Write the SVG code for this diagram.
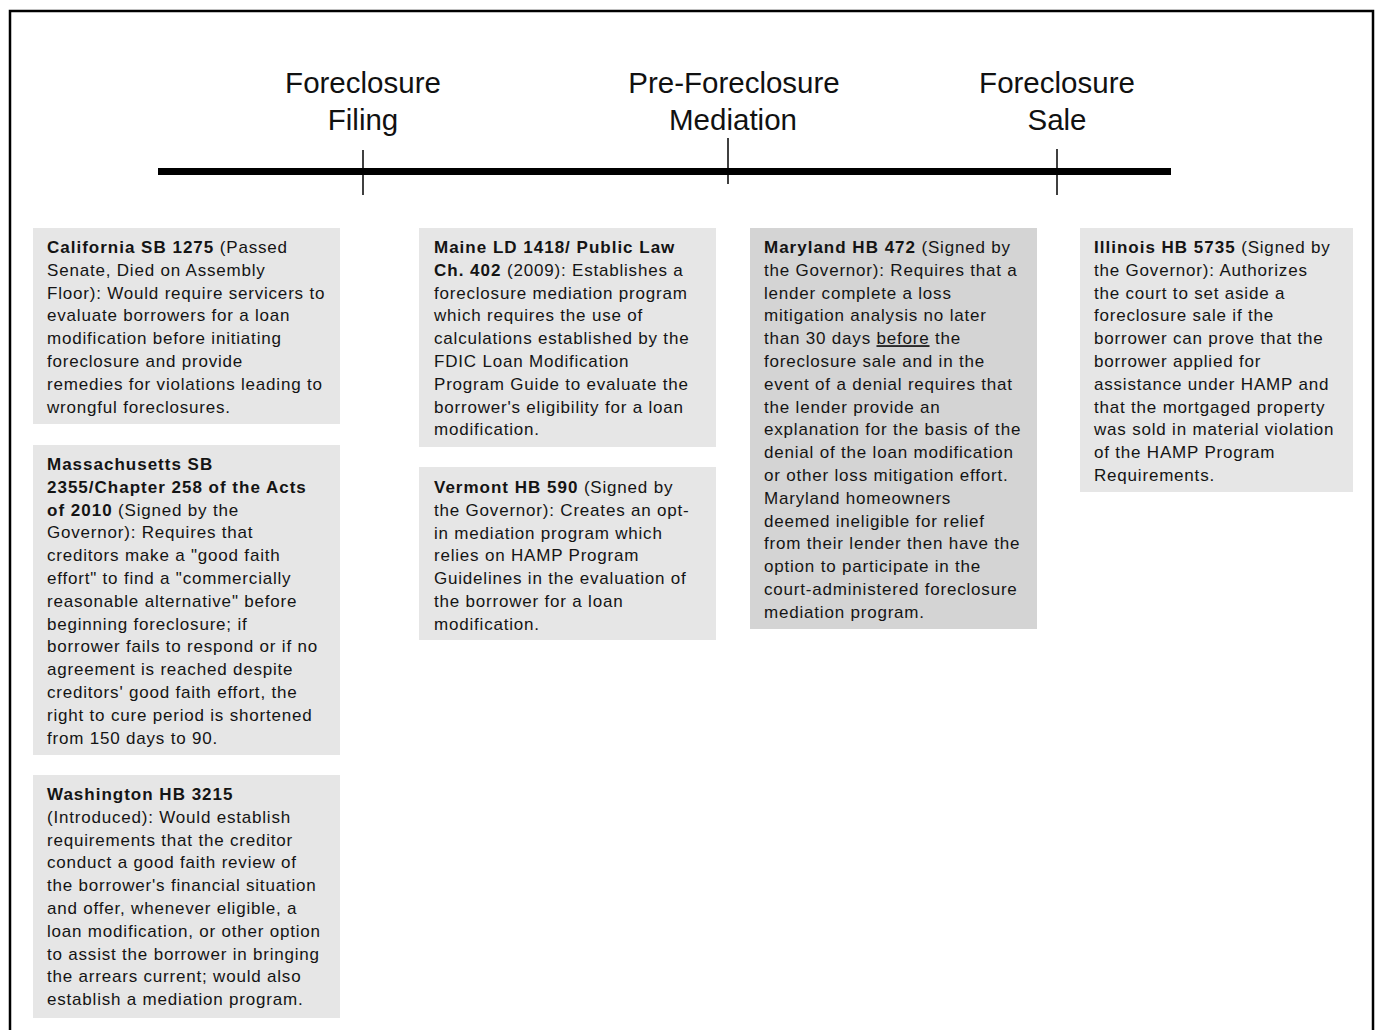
<svg xmlns="http://www.w3.org/2000/svg" width="1382" height="1030" viewBox="0 0 1382 1030">
<style>
.box{fill:#e6e6e6}
.boxd{fill:#d4d4d4}
.t{font-family:"Liberation Sans",Arial,sans-serif;font-size:17px;fill:#141414;letter-spacing:0.8px}
.b{font-weight:bold;letter-spacing:1px}
.h{font-family:"Liberation Sans",Arial,sans-serif;font-size:29.5px;fill:#111;text-anchor:middle}
</style>
<rect x="10" y="11" width="1363" height="1030" fill="#fff" stroke="#000" stroke-width="2.5"/>
<g id="timeline">
<line x1="158" y1="171.5" x2="1171" y2="171.5" stroke="#000" stroke-width="7"/>
</g>
<g id="connectors" stroke="#000" stroke-width="1.5">
<line x1="363" y1="150" x2="363" y2="195"/>
<line x1="728" y1="138" x2="728" y2="184"/>
<line x1="1057" y1="149" x2="1057" y2="195"/>
</g>
<g id="label-filing">
<text class="h" x="363" y="93">Foreclosure</text>
<text class="h" x="363" y="130">Filing</text>
</g>
<g id="label-mediation">
<text class="h" x="734" y="93">Pre-Foreclosure</text>
<text class="h" x="733" y="130">Mediation</text>
</g>
<g id="label-sale">
<text class="h" x="1057" y="93">Foreclosure</text>
<text class="h" x="1057" y="130">Sale</text>
</g>
<g id="california">
<rect class="box" x="33" y="228" width="307" height="196"/>
<text class="t" x="47" y="253"><tspan class="b">California SB 1275</tspan> (Passed</text>
<text class="t" x="47" y="275.8">Senate, Died on Assembly</text>
<text class="t" x="47" y="298.6">Floor): Would require servicers to</text>
<text class="t" x="47" y="321.4">evaluate borrowers for a loan</text>
<text class="t" x="47" y="344.2">modification before initiating</text>
<text class="t" x="47" y="367">foreclosure and provide</text>
<text class="t" x="47" y="389.8">remedies for violations leading to</text>
<text class="t" x="47" y="412.6">wrongful foreclosures.</text>
</g>
<g id="massachusetts">
<rect class="box" x="33" y="445" width="307" height="310"/>
<text class="t" x="47" y="470"><tspan class="b">Massachusetts SB</tspan></text>
<text class="t" x="47" y="492.8"><tspan class="b">2355/Chapter 258 of the Acts</tspan></text>
<text class="t" x="47" y="515.6"><tspan class="b">of 2010</tspan> (Signed by the</text>
<text class="t" x="47" y="538.4">Governor): Requires that</text>
<text class="t" x="47" y="561.2">creditors make a "good faith</text>
<text class="t" x="47" y="584">effort" to find a "commercially</text>
<text class="t" x="47" y="606.8">reasonable alternative" before</text>
<text class="t" x="47" y="629.6">beginning foreclosure; if</text>
<text class="t" x="47" y="652.4">borrower fails to respond or if no</text>
<text class="t" x="47" y="675.2">agreement is reached despite</text>
<text class="t" x="47" y="698">creditors' good faith effort, the</text>
<text class="t" x="47" y="720.8">right to cure period is shortened</text>
<text class="t" x="47" y="743.6">from 150 days to 90.</text>
</g>
<g id="washington">
<rect class="box" x="33" y="775" width="307" height="243"/>
<text class="t" x="47" y="800"><tspan class="b">Washington HB 3215</tspan></text>
<text class="t" x="47" y="822.8">(Introduced): Would establish</text>
<text class="t" x="47" y="845.6">requirements that the creditor</text>
<text class="t" x="47" y="868.4">conduct a good faith review of</text>
<text class="t" x="47" y="891.2">the borrower's financial situation</text>
<text class="t" x="47" y="914">and offer, whenever eligible, a</text>
<text class="t" x="47" y="936.8">loan modification, or other option</text>
<text class="t" x="47" y="959.6">to assist the borrower in bringing</text>
<text class="t" x="47" y="982.4">the arrears current; would also</text>
<text class="t" x="47" y="1005.2">establish a mediation program.</text>
</g>
<g id="maine">
<rect class="box" x="419" y="228" width="297" height="219"/>
<text class="t" x="434" y="253"><tspan class="b">Maine LD 1418/ Public Law</tspan></text>
<text class="t" x="434" y="275.8"><tspan class="b">Ch. 402</tspan> (2009): Establishes a</text>
<text class="t" x="434" y="298.6">foreclosure mediation program</text>
<text class="t" x="434" y="321.4">which requires the use of</text>
<text class="t" x="434" y="344.2">calculations established by the</text>
<text class="t" x="434" y="367">FDIC Loan Modification</text>
<text class="t" x="434" y="389.8">Program Guide to evaluate the</text>
<text class="t" x="434" y="412.6">borrower's eligibility for a loan</text>
<text class="t" x="434" y="435.4">modification.</text>
</g>
<g id="vermont">
<rect class="box" x="419" y="467" width="297" height="173"/>
<text class="t" x="434" y="493"><tspan class="b">Vermont HB 590</tspan> (Signed by</text>
<text class="t" x="434" y="515.8">the Governor): Creates an opt-</text>
<text class="t" x="434" y="538.6">in mediation program which</text>
<text class="t" x="434" y="561.4">relies on HAMP Program</text>
<text class="t" x="434" y="584.2">Guidelines in the evaluation of</text>
<text class="t" x="434" y="607">the borrower for a loan</text>
<text class="t" x="434" y="629.8">modification.</text>
</g>
<g id="maryland">
<rect class="boxd" x="750" y="228" width="287" height="401"/>
<text class="t" x="764" y="253"><tspan class="b">Maryland HB 472</tspan> (Signed by</text>
<text class="t" x="764" y="275.8">the Governor): Requires that a</text>
<text class="t" x="764" y="298.6">lender complete a loss</text>
<text class="t" x="764" y="321.4">mitigation analysis no later</text>
<text class="t" x="764" y="344.2">than 30 days <tspan text-decoration="underline">before</tspan> the</text>
<text class="t" x="764" y="367">foreclosure sale and in the</text>
<text class="t" x="764" y="389.8">event of a denial requires that</text>
<text class="t" x="764" y="412.6">the lender provide an</text>
<text class="t" x="764" y="435.4">explanation for the basis of the</text>
<text class="t" x="764" y="458.2">denial of the loan modification</text>
<text class="t" x="764" y="481">or other loss mitigation effort.</text>
<text class="t" x="764" y="503.8">Maryland homeowners</text>
<text class="t" x="764" y="526.6">deemed ineligible for relief</text>
<text class="t" x="764" y="549.4">from their lender then have the</text>
<text class="t" x="764" y="572.2">option to participate in the</text>
<text class="t" x="764" y="595">court-administered foreclosure</text>
<text class="t" x="764" y="617.8">mediation program.</text>
</g>
<g id="illinois">
<rect class="box" x="1080" y="228" width="273" height="264"/>
<text class="t" x="1094" y="253"><tspan class="b">Illinois HB 5735</tspan> (Signed by</text>
<text class="t" x="1094" y="275.8">the Governor): Authorizes</text>
<text class="t" x="1094" y="298.6">the court to set aside a</text>
<text class="t" x="1094" y="321.4">foreclosure sale if the</text>
<text class="t" x="1094" y="344.2">borrower can prove that the</text>
<text class="t" x="1094" y="367">borrower applied for</text>
<text class="t" x="1094" y="389.8">assistance under HAMP and</text>
<text class="t" x="1094" y="412.6">that the mortgaged property</text>
<text class="t" x="1094" y="435.4">was sold in material violation</text>
<text class="t" x="1094" y="458.2">of the HAMP Program</text>
<text class="t" x="1094" y="481">Requirements.</text>
</g>
</svg>
